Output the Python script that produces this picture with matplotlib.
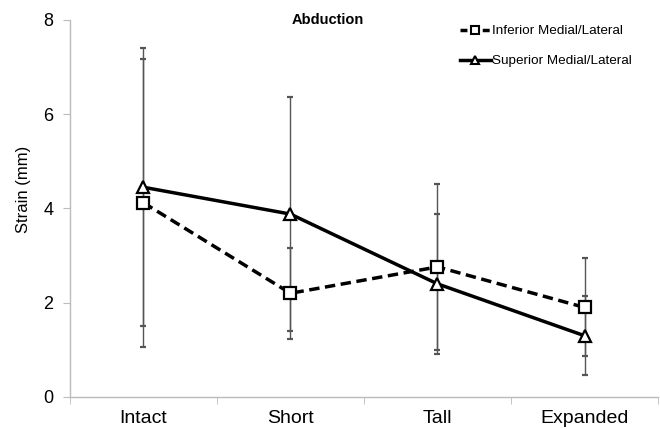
import numpy as np
import matplotlib.pyplot as plt
from matplotlib.lines import Line2D

plt.rcParams['font.family'] = ['Liberation Sans', 'DejaVu Sans']

# Dados
categories = ['Intact', 'Short', 'Tall', 'Expanded']
inferior_mean = [4.12, 2.20, 2.76, 1.90]
inferior_err = [3.05, 0.96, 1.76, 1.04]
superior_mean = [4.45, 3.88, 2.40, 1.30]
superior_err = [2.95, 2.49, 1.48, 0.84]

fig = plt.figure(figsize=(6.6, 4.29), dpi=100)
ax = fig.add_axes([0.106, 0.0746, 0.891, 0.879])

x = np.arange(len(categories))

ax.errorbar(x, inferior_mean, yerr=inferior_err, color='black', ecolor='#555555',
            elinewidth=1.0, capsize=2.5, capthick=1.0, linestyle='--', linewidth=2.5,
            dashes=(3, 1.6), marker='s', markersize=9, markerfacecolor='white',
            markeredgecolor='black', markeredgewidth=1.6)
ax.errorbar(x, superior_mean, yerr=superior_err, color='black', ecolor='#555555',
            elinewidth=1.0, capsize=2.5, capthick=1.0, linestyle='-', linewidth=2.5,
            marker='^', markersize=9, markerfacecolor='white',
            markeredgecolor='black', markeredgewidth=1.6)

ax.set_xlim(-0.5, len(categories) - 0.5)
ax.set_ylim(0, 8)
ax.set_yticks([0, 2, 4, 6, 8])
ax.set_xticks(x)
ax.set_xticklabels(categories)
ax.set_xticks(np.arange(-0.5, len(categories), 1.0), minor=True)
ax.tick_params(axis='x', which='major', length=0, labelsize=14, pad=9.5)
ax.tick_params(axis='x', which='minor', length=5, color='#bbbbbb', direction='out')
ax.tick_params(axis='y', length=5, color='#bbbbbb', labelsize=13, pad=7)

for s in ['top', 'right']:
    ax.spines[s].set_visible(False)
for s in ['left', 'bottom']:
    ax.spines[s].set_color('#bbbbbb')
    ax.spines[s].set_linewidth(1.0)

ax.set_ylabel('Strain (mm)', fontsize=12)
ax.yaxis.set_label_coords(-0.066, 0.55)
fig.text(0.496, 0.953, 'Abduction', fontsize=10.5, fontweight='bold', ha='center', va='center')

handles = [
    Line2D([], [], color='black', linestyle='--', dashes=(2, 1.2), linewidth=2.5, marker='s',
           markersize=6, markerfacecolor='white', markeredgecolor='black', markeredgewidth=1.5),
    Line2D([], [], color='black', linestyle='-', linewidth=2.5, marker='^',
           markersize=6, markerfacecolor='white', markeredgecolor='black', markeredgewidth=1.5),
]
labels = ['Inferior Medial/Lateral', 'Superior Medial/Lateral']
fig.legend(handles, labels, loc='upper left', bbox_to_anchor=(460 / 660, 1 - 25 / 429),
           frameon=False, fontsize=9.7, handlelength=2.3, handletextpad=0.05,
           labelspacing=1.3, borderpad=0, borderaxespad=0)

fig.savefig('out.png', dpi=100)
